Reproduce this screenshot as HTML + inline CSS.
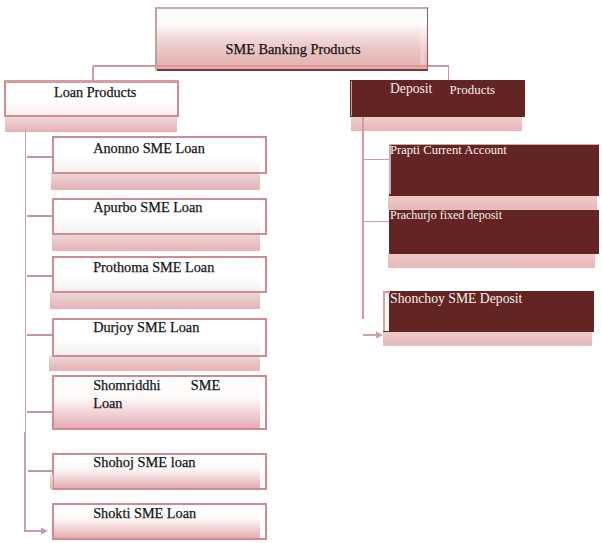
<!DOCTYPE html>
<html><head><meta charset="utf-8"><style>
html,body{margin:0;padding:0;background:#fff;}
body{width:602px;height:543px;position:relative;overflow:hidden;font-family:"Liberation Serif",serif;}
div{position:absolute;box-sizing:border-box;}
.t{white-space:nowrap;}
.d{-webkit-text-stroke:0.25px #222;}
</style></head><body>
<div style="left:155px;top:7px;width:273px;height:64px;background:linear-gradient(to bottom,#ffffff 0%,#fefbfb 26%,#f3dddc 46%,#eac5c4 66%,#e4b4b2 90%,#e4b4b2 100%)"></div>
<div style="left:419px;top:9px;width:7px;height:56px;background:linear-gradient(to right,rgba(255,255,255,0),rgba(255,255,255,0.28) 40%,rgba(255,255,255,0.28) 70%,rgba(255,255,255,0))"></div>
<div style="left:155px;top:7px;width:273px;height:2px;background:#c0acb0"></div>
<div style="left:155px;top:7px;width:1.6px;height:62px;background:#bda2a6"></div>
<div style="left:426.5px;top:7px;width:1.6px;height:64px;background:#8c5d63"></div>
<div style="left:157px;top:64.5px;width:270px;height:2px;background:#d89a99"></div>
<div style="left:157px;top:66.5px;width:270px;height:2.6px;background:#e9aaa8"></div>
<div style="left:157px;top:69px;width:271px;height:2px;background:#763838"></div>
<div class="t d" style="left:225.5px;top:42.45px;font-size:14.3px;line-height:14.3px;color:#111;">SME Banking Products</div>
<div style="left:93px;top:65.0px;width:62px;height:1.6px;background:#cd9aa0"></div>
<div style="left:92.2px;top:65.8px;width:1.6px;height:14.200000000000003px;background:#d69ba1"></div>
<div style="left:428px;top:65.0px;width:21px;height:1.6px;background:#c49a9f"></div>
<div style="left:447.7px;top:65.8px;width:1.6px;height:14.200000000000003px;background:#c49a9f"></div>
<div style="left:5px;top:80px;width:172px;height:52px;background:linear-gradient(to bottom,#ffffff 0%,#fdf3f3 30%,#e8b0b3 100%)"></div>
<div style="left:4px;top:80px;width:175px;height:37px;border:2px solid #cd8b94;border-top:3.5px solid #d99aa0;box-sizing:border-box;background:linear-gradient(to bottom,#fff 0%,#fff 55%,#fbeff0 100%)"></div>
<div style="left:5px;top:117px;width:172px;height:15px;background:linear-gradient(to bottom,#ecd8d5,#e7b1b6)"></div>
<div class="t d" style="left:54px;top:85.00px;font-size:14.2px;line-height:14.2px;color:#111;">Loan Products</div>
<div style="left:350px;top:80px;width:175px;height:37px;background:#632523"></div>
<div style="left:351px;top:81px;width:1.2px;height:35px;background:#d99a9c"></div>
<div style="left:351px;top:117px;width:171px;height:14px;background:linear-gradient(to bottom,#f0cfcf,#e8b6b8)"></div>
<div class="t" style="left:390.4px;top:81.25px;font-size:14.5px;line-height:14.5px;color:#f6ecec;transform:scaleX(0.94);transform-origin:0 0;">Deposit</div>
<div class="t" style="left:449.6px;top:83.00px;font-size:13px;line-height:13px;color:#f6ecec;">Products</div>
<div style="left:25.1px;top:128px;width:1.4px;height:304px;background:#c8a3aa"></div>
<div style="left:24.3px;top:432px;width:1.4px;height:99.70000000000005px;background:#c8a3aa"></div>
<div style="left:52px;top:137px;width:208px;height:36px;background:linear-gradient(to bottom,#fff 0%,#fff 50%,#f6efef 100%)"></div>
<div style="left:51px;top:173px;width:209px;height:17px;background:linear-gradient(to bottom,#ecd8d5,#e7b1b6)"></div>
<div style="left:52px;top:136px;width:215px;height:38px;border:2px solid #cd8b94;box-sizing:border-box"></div>
<div style="left:27px;top:155.85px;width:25px;height:1.7px;background:#c8949b"></div>
<div class="t d" style="left:93.2px;top:141.07px;font-size:14.25px;line-height:14.25px;color:#111;">Anonno SME Loan</div>
<div style="left:52px;top:199px;width:208px;height:35px;background:linear-gradient(to bottom,#fff 0%,#fff 50%,#f6efef 100%)"></div>
<div style="left:52px;top:234px;width:208px;height:17px;background:linear-gradient(to bottom,#ecd8d5,#e7b1b6)"></div>
<div style="left:52px;top:198px;width:215px;height:37px;border:2px solid #cd8b94;box-sizing:border-box"></div>
<div style="left:27px;top:215.15px;width:25px;height:1.7px;background:#c8949b"></div>
<div class="t d" style="left:93.2px;top:200.18px;font-size:14.25px;line-height:14.25px;color:#111;">Apurbo SME Loan</div>
<div style="left:52px;top:257px;width:208px;height:35px;background:linear-gradient(to bottom,#fff 0%,#fff 50%,#f6efef 100%)"></div>
<div style="left:50px;top:292px;width:210px;height:16.5px;background:linear-gradient(to bottom,#ecd8d5,#e7b1b6)"></div>
<div style="left:52px;top:256px;width:215px;height:37px;border:2px solid #cd8b94;box-sizing:border-box"></div>
<div style="left:27px;top:275.15px;width:25px;height:1.7px;background:#c8949b"></div>
<div class="t d" style="left:93.2px;top:260.18px;font-size:14.25px;line-height:14.25px;color:#111;">Prothoma SME Loan</div>
<div style="left:52px;top:319px;width:208px;height:36.5px;background:linear-gradient(to bottom,#fff 0%,#fff 50%,#f6efef 100%)"></div>
<div style="left:49px;top:355.5px;width:211px;height:15.5px;background:linear-gradient(to bottom,#ecd8d5,#e7b1b6)"></div>
<div style="left:52px;top:318px;width:215px;height:38.5px;border:2px solid #cd8b94;box-sizing:border-box"></div>
<div style="left:27px;top:333.95px;width:25px;height:1.7px;background:#c8949b"></div>
<div class="t d" style="left:93.2px;top:320.18px;font-size:14.25px;line-height:14.25px;color:#111;">Durjoy SME Loan</div>
<div style="left:52px;top:376px;width:208px;height:53px;background:linear-gradient(to bottom,#fff 0%,#fdf9f9 42%,#f2d5d7 68%,#e4a9af 100%)"></div>
<div style="left:52px;top:375px;width:215px;height:55px;border:2px solid #cd8b94;box-sizing:border-box"></div>
<div style="left:27px;top:411.15px;width:25px;height:1.7px;background:#c8949b"></div>
<div class="t d" style="left:93.2px;top:377.88px;font-size:14.25px;line-height:14.25px;color:#111;">Shomriddhi</div>
<div class="t d" style="left:190.8px;top:377.88px;font-size:14.25px;line-height:14.25px;color:#111;">SME</div>
<div class="t d" style="left:93.2px;top:395.98px;font-size:14.25px;line-height:14.25px;color:#111;">Loan</div>
<div style="left:52px;top:454px;width:208px;height:35px;background:linear-gradient(to bottom,#fff 0%,#fdf9f9 42%,#f2d5d7 68%,#e4a9af 100%)"></div>
<div style="left:52px;top:453px;width:215px;height:37px;border:2px solid #cd8b94;box-sizing:border-box"></div>
<div style="left:28px;top:470.15px;width:24px;height:1.7px;background:#c8949b"></div>
<div class="t d" style="left:93.2px;top:455.20px;font-size:14.4px;line-height:14.4px;color:#111;">Shohoj SME loan</div>
<div style="left:52px;top:504px;width:208px;height:35px;background:linear-gradient(to bottom,#fff 0%,#fdf9f9 42%,#f2d5d7 68%,#e4a9af 100%)"></div>
<div style="left:52px;top:503px;width:215px;height:37px;border:2px solid #cd8b94;box-sizing:border-box"></div>
<div style="left:49.5px;top:475px;width:3px;height:14px;background:linear-gradient(to bottom,#f0d8d8,#e6b0b4)"></div>
<div class="t d" style="left:93.2px;top:505.77px;font-size:14.25px;line-height:14.25px;color:#111;">Shokti SME Loan</div>
<div style="left:362.2px;top:117px;width:1.6px;height:202px;background:#d59aa0"></div>
<div style="left:389px;top:143.5px;width:210px;height:52px;background:#632523"></div>
<div style="left:389px;top:143.5px;width:210px;height:1.5px;background:#d8a5a6"></div>
<div style="left:389px;top:143.5px;width:1.6px;height:50px;background:#d8a5a6"></div>
<div style="left:388px;top:196px;width:208.5px;height:13.5px;background:linear-gradient(to bottom,#efcaca,#e8b8ba)"></div>
<div style="left:364px;top:158.8px;width:25px;height:1.4px;background:#c99ea2"></div>
<div class="t" style="left:390.0px;top:143.70px;font-size:12.6px;line-height:12.6px;color:#f8eeee;">Prapti Current Account</div>
<div style="left:389px;top:209.5px;width:210px;height:44.5px;background:#632523"></div>
<div style="left:387.5px;top:254px;width:207.5px;height:14px;background:linear-gradient(to bottom,#efcaca,#e8b8ba)"></div>
<div style="left:364px;top:220.8px;width:25px;height:1.4px;background:#c99ea2"></div>
<div class="t" style="left:390px;top:208.90px;font-size:12px;line-height:12px;color:#f8eeee;">Prachurjo fixed deposit</div>
<div style="left:383px;top:291px;width:211px;height:40.5px;background:#632523"></div>
<div style="left:383px;top:291px;width:6px;height:40px;background:linear-gradient(to right,#d4a2a8 0,#d4a2a8 2.4px,#fdf4f4 2.4px,#fdf4f4 6px)"></div>
<div style="left:383px;top:291px;width:7px;height:1.6px;background:#d59aa0"></div>
<div style="left:383px;top:331.5px;width:209px;height:14.5px;background:linear-gradient(to bottom,#efcaca,#e8b8ba)"></div>
<div class="t" style="left:390.1px;top:291.55px;font-size:13.7px;line-height:13.7px;color:#f8eeee;">Shonchoy SME Deposit</div>
<div style="left:362.5px;top:334.3px;width:14.5px;height:1.4px;background:#cfa3a7"></div>
<svg style="position:absolute;left:0;top:0" width="602" height="543"><polygon points="376,331.5 383,335 376,338.5" fill="#d39ca2"/><polygon points="41,527.5 48,531 41,534.5" fill="#d0979f"/></svg>
<div style="left:24.3px;top:530.25px;width:17.7px;height:1.5px;background:#cc9ca3"></div>
</body></html>
